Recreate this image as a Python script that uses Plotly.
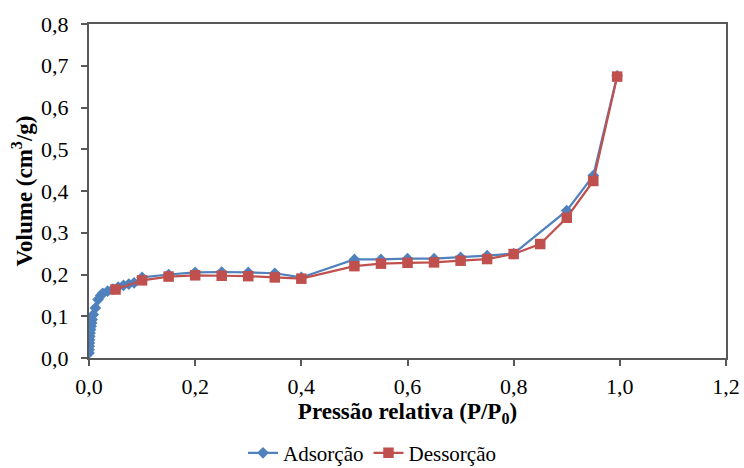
import plotly.graph_objects as go

# Adsorção (blue diamonds)
ads_x = [0.0001, 0.0003, 0.0005, 0.0008, 0.001, 0.0015, 0.002, 0.003, 0.004, 0.005,
         0.006, 0.008, 0.012, 0.017, 0.022, 0.026, 0.035, 0.045, 0.055, 0.065, 0.075,
         0.085, 0.1, 0.15, 0.2, 0.25, 0.3, 0.35, 0.4, 0.5, 0.55, 0.6, 0.65, 0.7, 0.75,
         0.8, 0.9, 0.95, 0.995]
ads_y = [0.012, 0.02, 0.028, 0.036, 0.044, 0.052, 0.06, 0.068, 0.076, 0.084,
         0.092, 0.104, 0.12, 0.14, 0.15, 0.155, 0.16, 0.165, 0.17, 0.174, 0.177,
         0.18, 0.193, 0.2, 0.205, 0.206, 0.205, 0.203, 0.193, 0.236, 0.236, 0.238, 0.238, 0.241, 0.245,
         0.25, 0.353, 0.437, 0.676]

# Dessorção (red squares)
des_x = [0.995, 0.95, 0.9, 0.85, 0.8, 0.75, 0.7, 0.65, 0.6, 0.55, 0.5, 0.4, 0.35,
         0.3, 0.25, 0.2, 0.15, 0.1, 0.05]
des_y = [0.674, 0.424, 0.336, 0.273, 0.249, 0.237, 0.233, 0.229, 0.228, 0.226, 0.22,
         0.19, 0.193, 0.196, 0.197, 0.198, 0.195, 0.186, 0.164]

x_ticks = [0, 0.2, 0.4, 0.6, 0.8, 1.0, 1.2]
x_labels = ["0,0", "0,2", "0,4", "0,6", "0,8", "1,0", "1,2"]
y_ticks = [0, 0.1, 0.2, 0.3, 0.4, 0.5, 0.6, 0.7, 0.8]
y_labels = ["0,0", "0,1", "0,2", "0,3", "0,4", "0,5", "0,6", "0,7", "0,8"]

FONT = "Liberation Serif, Times New Roman, serif"

fig = go.Figure()
fig.add_trace(go.Scatter(
    x=ads_x, y=ads_y, name="Adsorção", mode="lines+markers",
    line=dict(color="#4F81BD", width=2.2),
    marker=dict(symbol="diamond", size=9, color="#4F81BD"),
))
fig.add_trace(go.Scatter(
    x=des_x, y=des_y, name="Dessorção", mode="lines+markers",
    line=dict(color="#C0504D", width=2.2),
    marker=dict(symbol="square", size=10.5, color="#C0504D"),
))

axis_common = dict(
    showgrid=False, zeroline=False, showline=True, linecolor="#595959", linewidth=2,
    mirror=True, ticks="outside", ticklen=6, tickcolor="#595959", tickwidth=1.5,
    tickfont=dict(family=FONT, size=22, color="#000000"),
)

fig.update_xaxes(
    range=[0, 1.2], tickvals=x_ticks, ticktext=x_labels, ticklabelstandoff=2,
    title=dict(text="<b>Pressão relativa (P/P<sub>0</sub>)</b>",
               font=dict(family=FONT, size=23, color="#000000"), standoff=4),
    **axis_common,
)
fig.update_yaxes(
    range=[0, 0.8], tickvals=y_ticks, ticktext=y_labels, ticklabelstandoff=8,
    title=dict(text="<b>Volume (cm<sup>3</sup>/g)</b>",
               font=dict(family=FONT, size=23, color="#000000"), standoff=2),
    **axis_common,
)

fig.update_layout(
    width=744, height=468,
    margin=dict(l=89, r=18, t=24, b=110, autoexpand=False),
    paper_bgcolor="white", plot_bgcolor="white",
    showlegend=True,
    legend=dict(
        orientation="h", xref="container", yref="paper",
        x=0.5, xanchor="center", y=-0.285, yanchor="middle",
        font=dict(family=FONT, size=21, color="#000000"),
        itemwidth=30, tracegroupgap=0,
    ),
)

fig.write_html("out.html")
